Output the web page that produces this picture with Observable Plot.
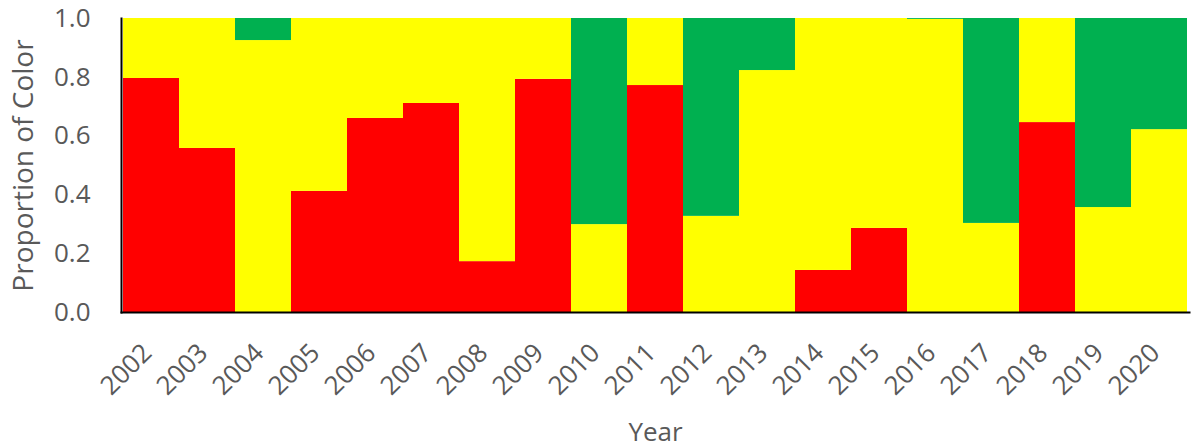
<!DOCTYPE html>
<html>
<head>
<meta charset="utf-8">
<script src="https://cdn.jsdelivr.net/npm/d3@7"></script>
<script src="https://cdn.jsdelivr.net/npm/@observablehq/plot@0.6"></script>
<style>
  html, body { margin: 0; padding: 0; background: #fff; }
  #chart svg { display: block; overflow: visible; }
  #chart svg g[aria-label="x-axis tick label"] text { font-size: 26px !important; }
  #chart svg g[aria-label="y-axis tick label"] text { font-size: 26px !important; }
</style>
</head>
<body>
<div id="chart"></div>
<script>
const years = ["2002","2003","2004","2005","2006","2007","2008","2009","2010","2011","2012","2013","2014","2015","2016","2017","2018","2019","2020"];
const red    = [0.796, 0.558, 0.000, 0.412, 0.660, 0.711, 0.173, 0.793, 0.000, 0.772, 0.000, 0.000, 0.143, 0.286, 0.000, 0.000, 0.646, 0.000, 0.000];
const yellow = [0.204, 0.442, 0.925, 0.588, 0.340, 0.289, 0.827, 0.207, 0.299, 0.228, 0.327, 0.823, 0.857, 0.714, 0.997, 0.303, 0.354, 0.357, 0.622];
const green  = [0.000, 0.000, 0.075, 0.000, 0.000, 0.000, 0.000, 0.000, 0.701, 0.000, 0.673, 0.177, 0.000, 0.000, 0.003, 0.697, 0.000, 0.643, 0.378];
const colorNames = ["Red", "Yellow", "Green"];
const colorValues = ["#FF0000", "#FFFF00", "#00B050"];
const yTicks = [0, 0.2, 0.4, 0.6, 0.8, 1.0];

const series = [red, yellow, green];
const rows = [];
years.forEach((yr, i) => {
  series.forEach((s, k) => rows.push({year: yr, color: colorNames[k], value: s[i]}));
});

const font = "'Open Sans', 'Noto Sans', sans-serif";

const chart = Plot.plot({
  width: 1191,
  height: 447,
  marginLeft: 121,
  marginRight: 2,
  marginTop: 18,
  marginBottom: 135,
  style: {fontFamily: font, fontSize: "26px", background: "#fff"},
  x: {domain: years, padding: 0, axis: null},
  y: {domain: [0, 1], axis: null},
  color: {domain: colorNames, range: colorValues},
  marks: [
    Plot.barY(rows, Plot.stackY({x: "year", y: "value", fill: {value: "color", scale: "color"}, order: colorNames})),
    Plot.axisY({
      ticks: yTicks, tickSize: 0, tickPadding: 31, tickFormat: d3.format(".1f"),
      fill: "#595959", label: null
    }),
    Plot.axisX({
      tickSize: 0, tickRotate: -45, tickPadding: 36, dx: -4, fill: "#595959", label: null
    }),
    Plot.frame({anchor: "left", stroke: "#000", strokeWidth: 2}),
    Plot.frame({anchor: "bottom", stroke: "#000", strokeWidth: 2}),
    Plot.text(["Year"], {frameAnchor: "bottom", dy: 128, fontSize: 26, fill: "#595959"}),
    Plot.text(["Proportion of Color"], {frameAnchor: "left", dx: -97, rotate: -90, textAnchor: "middle", fontSize: 28, fill: "#595959"})
  ]
});
document.getElementById("chart").appendChild(chart);
</script>
</body>
</html>
